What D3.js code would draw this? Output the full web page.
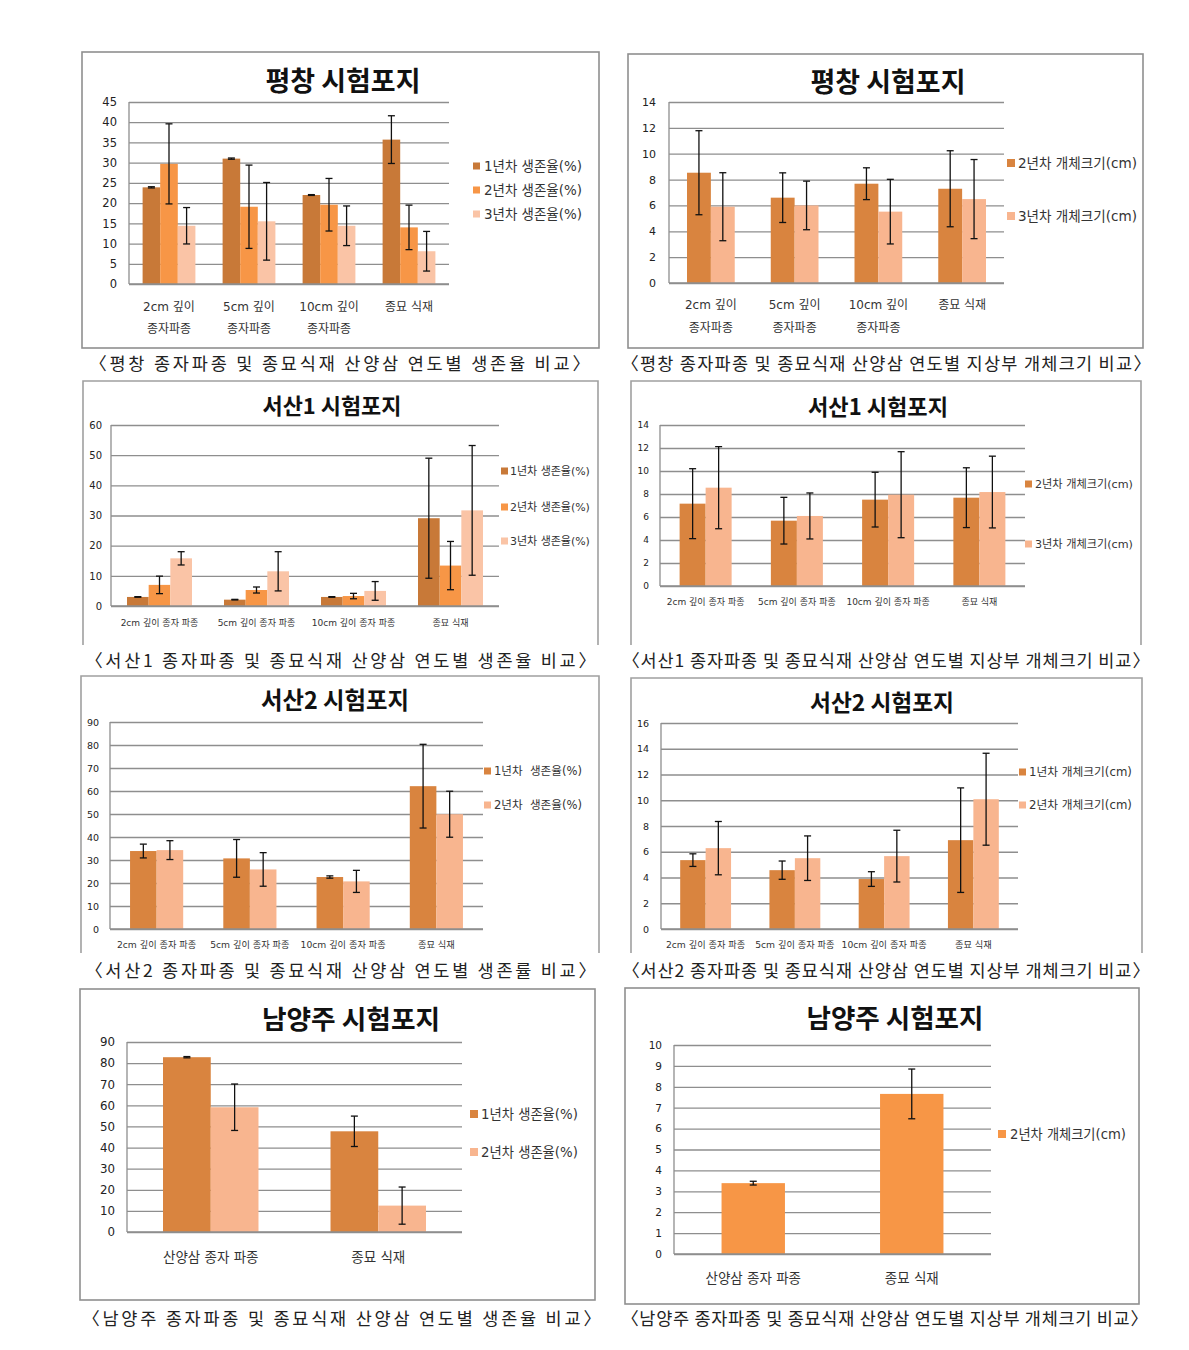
<!DOCTYPE html>
<html><head><meta charset="utf-8">
<script src="https://cdn.jsdelivr.net/npm/d3@7"></script>
<style>body{margin:0;background:#fff}</style>
</head><body>
<script>
// ---------- DATA ----------
const catsPC = ["2cm 깊이|종자파종", "5cm 깊이|종자파종", "10cm 깊이|종자파종", "종묘 식재"];
const catsSS = ["2cm 깊이 종자 파종", "5cm 깊이 종자 파종", "10cm 깊이 종자 파종", "종묘 식재"];
const catsNY = ["산양삼 종자 파종", "종묘 식재"];

const survNames3 = ["1년차 생존율(%)", "2년차 생존율(%)", "3년차 생존율(%)"];
const sizeNames23 = ["2년차 개체크기(cm)", "3년차 개체크기(cm)"];
const survNames2 = ["1년차  생존율(%)", "2년차  생존율(%)"];
const sizeNames12 = ["1년차 개체크기(cm)", "2년차 개체크기(cm)"];
const survNamesNY = ["1년차 생존율(%)", "2년차 생존율(%)"];
const sizeNamesNY = ["2년차 개체크기(cm)"];

// 평창 생존율
const pcSurvY1 = [23.9, 31.0, 22.0, 35.7];  const pcSurvY1Err = [0.15, 0.15, 0.1, 5.9];
const pcSurvY2 = [29.7, 19.1, 19.6, 14.0];  const pcSurvY2Err = [9.9, 10.3, 6.5, 5.5];
const pcSurvY3 = [14.4, 15.5, 14.4, 8.1];   const pcSurvY3Err = [4.5, 9.6, 4.9, 4.9];
// 평창 개체크기
const pcSizeY2 = [8.53, 6.6, 7.68, 7.29];   const pcSizeY2Err = [3.25, 1.92, 1.23, 2.94];
const pcSizeY3 = [5.9, 6.0, 5.52, 6.49];    const pcSizeY3Err = [2.63, 1.88, 2.5, 3.06];
// 서산1 생존율
const ss1SurvY1 = [3.0, 2.1, 3.0, 29.1];    const ss1SurvY1Err = [0.1, 0.1, 0.1, 19.9];
const ss1SurvY2 = [7.0, 5.3, 3.3, 13.4];    const ss1SurvY2Err = [2.9, 1.0, 0.9, 8.0];
const ss1SurvY3 = [15.8, 11.5, 5.0, 31.7];  const ss1SurvY3Err = [2.2, 6.5, 3.1, 21.5];
// 서산1 개체크기
const ss1SizeY2 = [7.16, 5.68, 7.51, 7.68]; const ss1SizeY2Err = [3.04, 2.03, 2.38, 2.6];
const ss1SizeY3 = [8.55, 6.09, 7.94, 8.17]; const ss1SizeY3Err = [3.57, 2.0, 3.74, 3.12];
// 서산2 생존율
const ss2SurvY1 = [33.9, 30.7, 22.6, 62.1]; const ss2SurvY1Err = [3.0, 8.2, 0.5, 18.2];
const ss2SurvY2 = [34.3, 25.9, 20.7, 49.9]; const ss2SurvY2Err = [4.1, 7.3, 4.8, 10.0];
// 서산2 개체크기
const ss2SizeY1 = [5.35, 4.57, 3.88, 6.9];  const ss2SizeY1Err = [0.49, 0.71, 0.57, 4.06];
const ss2SizeY2 = [6.28, 5.5, 5.66, 10.08]; const ss2SizeY2Err = [2.07, 1.73, 2.01, 3.57];
// 남양주 생존율
const nySurvY1 = [82.8, 47.7];              const nySurvY1Err = [0.3, 7.2];
const nySurvY2 = [59.1, 12.5];              const nySurvY2Err = [11.0, 8.8];
// 남양주 개체크기
const nySizeY2 = [3.39, 7.66];              const nySizeY2Err = [0.09, 1.19];

const ticks45 = d3.range(0, 46, 5), ticks14 = d3.range(0, 15, 2), ticks60 = d3.range(0, 61, 10);
const ticks90 = d3.range(0, 91, 10), ticks16 = d3.range(0, 17, 2), ticks10 = d3.range(0, 11, 1);

const titles = ["평창 시험포지", "평창 시험포지", "서산1 시험포지", "서산1 시험포지",
                "서산2 시험포지", "서산2 시험포지", "남양주 시험포지", "남양주 시험포지"];
const captions = [
  "〈평창 종자파종 및 종묘식재 산양삼 연도별 생존율 비교〉",
  "〈평창 종자파종 및 종묘식재 산양삼 연도별 지상부 개체크기 비교〉",
  "〈서산1 종자파종 및 종묘식재 산양삼 연도별 생존율 비교〉",
  "〈서산1 종자파종 및 종묘식재 산양삼 연도별 지상부 개체크기 비교〉",
  "〈서산2 종자파종 및 종묘식재 산양삼 연도별 생존률 비교〉",
  "〈서산2 종자파종 및 종묘식재 산양삼 연도별 지상부 개체크기 비교〉",
  "〈남양주 종자파종 및 종묘식재 산양삼 연도별 생존율 비교〉",
  "〈남양주 종자파종 및 종묘식재 산양삼 연도별 지상부 개체크기 비교〉"
];

// ---------- STYLE ----------
const C1a = "#c87938", C2a = "#f79646", C3a = "#fac4a6";   // three-series survival
const C1b = "#d9843f", C2b = "#f8b58f";                    // two-series
const LATIN = "'DejaVu Sans', 'Noto Sans CJK KR', sans-serif";
const KOR = "'Noto Sans CJK KR', sans-serif";

const panels = [
  { box:[82,52,599,348,false], plot:[129,449,102,284], max:45, ticks:ticks45, cats:catsPC, pad:0.34,
    series:[[survNames3[0],pcSurvY1,pcSurvY1Err,C1a],[survNames3[1],pcSurvY2,pcSurvY2Err,C2a],[survNames3[2],pcSurvY3,pcSurvY3Err,C3a]],
    title:[343,91,25,155], tick:[11.5,12], cat:[12,311,333], leg:[473,484,[166,190,214],12,7,98],
    cap:[97,582,370] },
  { box:[628,54,1143,348,false], plot:[669,1004,102,283], max:14, ticks:ticks14, cats:catsPC, pad:0.43,
    series:[[sizeNames23[0],pcSizeY2,pcSizeY2Err,C1b],[sizeNames23[1],pcSizeY3,pcSizeY3Err,C2b]],
    title:[888,92,25,155], tick:[11,13], cat:[12,309,332], leg:[1007,1018,[163,216],12.5,8,119],
    cap:[629,1143,370] },
  { box:[83,381,598,645,true], plot:[111,499,425,606], max:60, ticks:ticks60, cats:catsSS, pad:0.33,
    series:[[survNames3[0],ss1SurvY1,ss1SurvY1Err,C1a],[survNames3[1],ss1SurvY2,ss1SurvY2Err,C2a],[survNames3[2],ss1SurvY3,ss1SurvY3Err,C3a]],
    title:[332,414,20.5,139], tick:[10,9], cat:[9,626,null], leg:[501,510,[471,507,541],10.3,7,80],
    cap:[93,588,667] },
  { box:[631,381,1141,645,true], plot:[660,1025,425,586], max:14, ticks:ticks14, cats:catsSS, pad:0.43,
    series:[[sizeNames23[0],ss1SizeY2,ss1SizeY2Err,C1b],[sizeNames23[1],ss1SizeY3,ss1SizeY3Err,C2b]],
    title:[878,415,20.5,140], tick:[9,11], cat:[9,605,null], leg:[1025,1035,[484,544],10.6,7,98],
    cap:[630,1142,667] },
  { box:[81,676,599,953,true], plot:[110,483,722,929], max:90, ticks:ticks90, cats:catsSS, pad:0.43,
    series:[[survNames2[0],ss2SurvY1,ss2SurvY1Err,C1b],[survNames2[1],ss2SurvY2,ss2SurvY2Err,C2b]],
    title:[335,709,21,148], tick:[9.5,11], cat:[9.2,948,null], leg:[484,494,[771,805],10.3,7,88],
    cap:[93,588,977] },
  { box:[631,678,1142,953,true], plot:[661,1018,723,929], max:16, ticks:ticks16, cats:catsSS, pad:0.43,
    series:[[sizeNames12[0],ss2SizeY1,ss2SizeY1Err,C1b],[sizeNames12[1],ss2SizeY2,ss2SizeY2Err,C2b]],
    title:[882,711,21,144], tick:[9.5,12], cat:[9.2,948,null], leg:[1019,1029,[772,805],11,7,103],
    cap:[630,1142,977] },
  { box:[80,989,595,1300,false], plot:[127,462,1042,1232], max:90, ticks:ticks90, cats:catsNY, pad:0.43,
    series:[[survNamesNY[0],nySurvY1,nySurvY1Err,C1b],[survNamesNY[1],nySurvY2,nySurvY2Err,C2b]],
    title:[351,1029,24.7,178], tick:[11.8,12], cat:[13.5,1262,null], leg:[470,481,[1114,1152],12.5,8,97],
    cap:[90,593,1325] },
  { box:[625,988,1139,1304,false], plot:[674,991,1045,1254], max:10, ticks:ticks10, cats:catsNY, pad:0.6,
    series:[[sizeNamesNY[0],nySizeY2,nySizeY2Err,C2a]],
    title:[895,1028,24.5,177], tick:[10.5,12], cat:[13.5,1283,null], leg:[998,1010,[1134],12.5,8,116],
    cap:[629,1140,1325] }
];

// ---------- DRAW ----------
const svg = d3.select("body").append("svg").attr("width",1189).attr("height",1350);
svg.append("rect").attr("width",1189).attr("height",1350).attr("fill","#fff");

function fitFont(sel, base, target) {
  const w = sel.node().getComputedTextLength();
  const fs = w > 0 ? base * target / w : base;
  sel.attr("font-size", fs);
  return fs;
}

panels.forEach((p, i) => {
  const g = svg.append("g");
  const [bx0, by0, bx1, by1, open] = p.box;
  if (open) {
    g.append("path").attr("d", `M${bx0},${by1}V${by0}H${bx1}V${by1}`)
      .attr("fill","none").attr("stroke","#a0a0a0").attr("stroke-width",1.6);
  } else {
    g.append("rect").attr("x",bx0).attr("y",by0).attr("width",bx1-bx0).attr("height",by1-by0)
      .attr("fill","none").attr("stroke","#8f8f8f").attr("stroke-width",1.6);
  }
  const [px0, px1, py0, py1] = p.plot;
  const y = d3.scaleLinear().domain([0, p.max]).range([py1, py0]);
  const x = d3.scaleBand().domain(p.cats).range([px0, px1]).paddingInner(p.pad).paddingOuter(p.pad/2);
  const xs = d3.scaleBand().domain(d3.range(p.series.length)).range([0, x.bandwidth()]);

  // grid + y axis
  const ax = g.append("g").attr("transform",`translate(${px0},0)`)
    .call(d3.axisLeft(y).tickValues(p.ticks).tickSize(-(px1-px0)).tickPadding(p.tick[1]).tickFormat(d3.format("d")));
  ax.select(".domain").remove();
  ax.selectAll(".tick line").attr("stroke","#8e8e8e").attr("stroke-width",1.3);
  ax.selectAll(".tick text").attr("font-family",LATIN).attr("font-size",p.tick[0]).attr("fill","#222");
  g.append("line").attr("x1",px0).attr("x2",px0).attr("y1",py0).attr("y2",py1)
    .attr("stroke","#8e8e8e").attr("stroke-width",1.3);

  // bars
  p.series.forEach((s, si) => {
    const [name, vals, errs, color] = s;
    g.append("g").selectAll("rect").data(vals).join("rect")
      .attr("x",(d,k)=>x(p.cats[k]) + xs(si))
      .attr("width", xs.bandwidth())
      .attr("y", d=>y(d)).attr("height", d=>py1 - y(d))
      .attr("fill", color);
  });
  g.append("line").attr("x1",px0).attr("x2",px1).attr("y1",py1).attr("y2",py1)
    .attr("stroke","#8e8e8e").attr("stroke-width",1.3);
  // error bars
  p.series.forEach((s, si) => {
    const [name, vals, errs] = s;
    const eg = g.append("g").attr("stroke","#111").attr("stroke-width",1.3);
    vals.forEach((v, k) => {
      const cx = x(p.cats[k]) + xs(si) + xs.bandwidth()/2;
      const top = y(v + errs[k]), bot = y(Math.max(0, v - errs[k]));
      eg.append("line").attr("x1",cx).attr("x2",cx).attr("y1",top).attr("y2",bot);
      eg.append("line").attr("x1",cx-3.5).attr("x2",cx+3.5).attr("y1",top).attr("y2",top);
      eg.append("line").attr("x1",cx-3.5).attr("x2",cx+3.5).attr("y1",bot).attr("y2",bot);
    });
  });

  // category labels
  const [cfs, cy1, cy2] = p.cat;
  p.cats.forEach(c => {
    const parts = c.split("|");
    const cx = x(c) + x.bandwidth()/2;
    parts.forEach((t, li) => {
      g.append("text").attr("x",cx).attr("y", li===0 ? cy1 : cy2)
        .attr("text-anchor","middle").attr("font-family",LATIN).attr("font-size",cfs)
        .attr("fill","#333").text(t);
    });
  });

  // title
  const [tx, ty, tfs, tw] = p.title;
  const tt = g.append("text").attr("x",tx).attr("y",ty).attr("text-anchor","middle")
    .attr("font-family",KOR).attr("font-weight",700).attr("font-size",tfs).attr("fill","#111")
    .text(titles[i]);
  fitFont(tt, tfs, tw);

  // legend
  const [lsx, ltx, lys, lfs, lsq, lw] = p.leg;
  let legFs = lfs;
  p.series.forEach((s, si) => {
    g.append("rect").attr("x",lsx).attr("y",lys[si]-lsq/2).attr("width",lsq).attr("height",lsq).attr("fill",s[3]);
    const lt = g.append("text").attr("x",ltx).attr("y",lys[si]).attr("dy","0.36em")
      .attr("font-family",LATIN).attr("font-size",lfs).attr("fill","#333")
      .attr("xml:space","preserve").style("white-space","pre").text(s[0]);
    if (si === 0) legFs = fitFont(lt, lfs, lw); else lt.attr("font-size", legFs);
  });

  // caption (full-width brackets carry half-em side bearings, so widen the run)
  const [cx0, cx1, cyy] = p.cap;
  const capFs = 17.5, bear = capFs * 0.45;
  g.append("text").attr("x",cx0 - bear).attr("y",cyy)
    .attr("font-family",KOR).attr("font-weight",400).attr("font-size",capFs).attr("fill","#222")
    .attr("textLength",cx1 - cx0 + 2*bear).attr("lengthAdjust","spacing")
    .text(captions[i]);
});
</script>
</body></html>
